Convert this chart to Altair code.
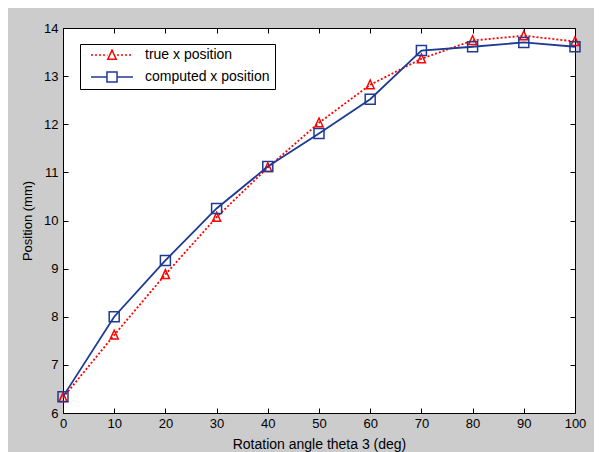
import altair as alt
import pandas as pd

# ---- data ----
angles = [0, 10, 20, 30, 40, 50, 60, 70, 80, 90, 100]
true_x = [6.32, 7.62, 8.88, 10.07, 11.10, 12.03, 12.82, 13.36, 13.74, 13.84, 13.72]
computed_x = [6.34, 8.00, 9.17, 10.25, 11.12, 11.81, 12.52, 13.53, 13.61, 13.70, 13.61]
series = ["true x position", "computed x position"]
colors = ["#ff0000", "#1f3a93"]
x_ticks = [0, 10, 20, 30, 40, 50, 60, 70, 80, 90, 100]
y_ticks = [6, 7, 8, 9, 10, 11, 12, 13, 14]

df = pd.DataFrame({
    "angle": angles + angles,
    "position": true_x + computed_x,
    "series": [series[0]] * len(angles) + [series[1]] * len(angles),
})

FONT = "Liberation Sans"

# ---- legend symbols (line + marker) as custom paths, unit = half symbol width ----
def dotted(x0, x1, dash=0.095, period=0.19):
    out = []
    x = x0
    while x < x1 - 1e-9:
        e = min(x + dash, x1)
        out.append(f"M{x:.3f},0H{e:.3f}")
        x += period
    return "".join(out)

red_sym = dotted(-1.0, -0.22) + dotted(0.24, 1.0) + "M0,-0.23L0.2,0.2H-0.2Z"
blue_sym = "M-1,0H-0.24M0.24,0H1M-0.24,-0.24H0.24V0.24H-0.24Z"

legend_def = alt.Legend(
    title=None, orient="none", legendX=17, legendY=16,
    fillColor="white", strokeColor="black", padding=5,
    symbolSize=1764, symbolStrokeWidth=1.5, symbolOffset=5,
    symbolOpacity=1, symbolFillColor="transparent",
    labelOffset=11, labelFont=FONT, labelFontSize=14, labelColor="black",
    clipHeight=12, rowPadding=8,
)

color_enc = alt.Color("series:N", scale=alt.Scale(domain=series, range=colors), legend=legend_def)
shape_enc = alt.Shape("series:N", scale=alt.Scale(domain=series, range=[red_sym, blue_sym]),
                      legend=legend_def)
x_scale = alt.Scale(domain=[0, 100], nice=False, zero=False)
y_scale = alt.Scale(domain=[6, 14], nice=False, zero=False)

x_labels = alt.Axis(orient="bottom", values=x_ticks, ticks=False, tickSize=0, labelPadding=4,
                    labelFlush=False, title="Rotation angle theta 3 (deg)", titlePadding=7,
                    format="d")
y_labels = alt.Axis(orient="left", values=y_ticks, ticks=False, tickSize=0, labelPadding=5,
                    labelFlush=False, title="Position (mm)", titlePadding=9, titleFontSize=13,
                    format="d")


def tick_axis(orient, vals):
    return alt.Axis(orient=orient, offset=-5, values=vals, ticks=True, tickSize=5,
                    labels=False, title=None)


base = alt.Chart(df)
red = base.transform_filter(alt.datum.series == series[0])
blue = base.transform_filter(alt.datum.series == series[1])

red_line = red.mark_line(strokeDash=[2, 2], strokeWidth=1.8).encode(
    x=alt.X("angle:Q", scale=x_scale, axis=x_labels),
    y=alt.Y("position:Q", scale=y_scale, axis=y_labels),
    color=color_enc,
)
red_pts = red.mark_point(shape="M0,-0.95L0.8,0.8H-0.8Z", size=100, filled=False,
                         strokeWidth=1.5, opacity=1).encode(
    x=alt.X("angle:Q", scale=x_scale, axis=tick_axis("bottom", x_ticks)),
    y=alt.Y("position:Q", scale=y_scale, axis=tick_axis("left", y_ticks)),
    color=color_enc,
)
blue_line = blue.mark_line(strokeWidth=1.8).encode(
    x=alt.X("angle:Q", scale=x_scale, axis=tick_axis("top", x_ticks)),
    y=alt.Y("position:Q", scale=y_scale, axis=tick_axis("right", y_ticks)),
    color=color_enc,
)
blue_pts = blue.mark_point(shape="square", size=100, filled=False,
                           strokeWidth=1.5, opacity=1).encode(
    x=alt.X("angle:Q", scale=x_scale, axis=None),
    y=alt.Y("position:Q", scale=y_scale, axis=None),
    color=color_enc,
)
# carrier for the legend symbols only (invisible marks)
legend_carrier = base.mark_point(filled=False, opacity=0).encode(
    x=alt.X("angle:Q", scale=x_scale, axis=None),
    y=alt.Y("position:Q", scale=y_scale, axis=None),
    color=color_enc,
    shape=shape_enc,
)

chart = alt.layer(red_line, red_pts, blue_line, blue_pts, legend_carrier).resolve_axis(
    x="independent", y="independent"
).properties(
    width=512, height=385,
    background="#cccccc",
    padding={"left": 55, "top": 20, "right": 19, "bottom": 41},
    autosize=alt.AutoSizeParams(type="none"),
).configure_view(
    stroke="black", strokeWidth=1, fill="white"
).configure_axis(
    grid=False, domain=False,
    labelFont=FONT, labelFontSize=13, labelColor="black",
    titleFont=FONT, titleFontSize=14, titleFontWeight="normal", titleColor="black",
    tickColor="black", tickWidth=1,
)

chart.save("out.html", embed_options={"renderer": "svg", "actions": False})
